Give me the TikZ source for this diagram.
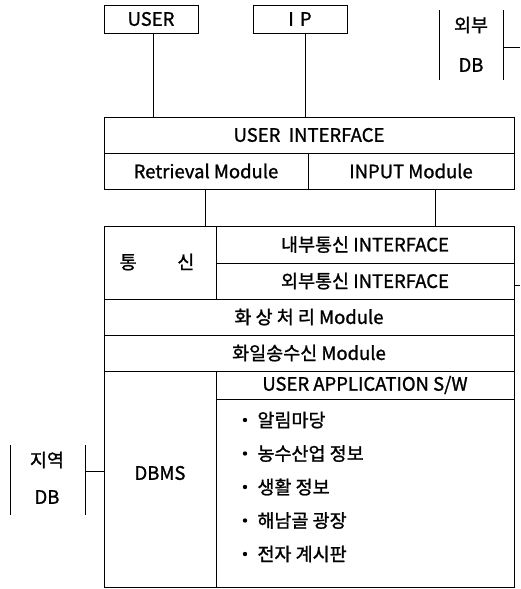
\documentclass[tikz,border=0pt]{standalone}
\usepackage{fontspec}
\setmainfont{Noto Sans CJK KR}[FakeBold=1.2]
\usepackage{tikz}
\usetikzlibrary{positioning,calc}
\tikzset{
  box/.style={draw,line width=0.9pt,inner sep=0pt,font=\fontsize{18.5}{22}\selectfont},
  lbl/.style={inner sep=0pt,font=\fontsize{18.5}{22}\selectfont},
  dot/.style={circle,fill,inner sep=0pt,minimum size=4.4pt}
}

\begin{document}
\begin{tikzpicture}[x=1pt,y=-1pt,line width=0.9pt]
      \useasboundingbox (0,0) rectangle (520,589);
      % top inputs
      \node[box,minimum width=94pt,minimum height=28pt] (user) at (151,19) {USER};
      \node[box,minimum width=94pt,minimum height=28pt] (ip) at (300,19) {I\,\,P};

      % interface layer
      \node[box,minimum width=410pt,minimum height=36pt] (ui) at (309,135) {USER\ \ INTERFACE};
      \node[box,minimum width=204pt,minimum height=36pt] (ret) at (206,171) {Retrieval Module};
      \node[box,minimum width=206pt,minimum height=36pt] (inp) at (411,171) {INPUT Module};

      % communication
      \node[box,minimum width=112pt,minimum height=73pt] (comm) at (160,262.5) {};
      \node[lbl] (commtxt) at (157,262) {통\hspace{2.2em}신};
      \node[box,minimum width=298pt,minimum height=37pt] (inner) at (365,244.5) {내부통신 INTERFACE};
      \node[box,minimum width=298pt,minimum height=36pt] (outer) at (365,281) {외부통신 INTERFACE};
      \node[box,minimum width=410pt,minimum height=36pt] (img) at (309,317) {화 상 처 리 Module};
      \node[box,minimum width=410pt,minimum height=36pt] (file) at (309,353) {화일송수신 Module};

      % DBMS and application
      \node[box,minimum width=112pt,minimum height=216pt] (dbms) at (160,479) {};
      \node[lbl] (dbmstxt) at (160,473) {DBMS};
      \node[box,minimum width=298pt,minimum height=28pt] (apphd) at (365,385) {USER APPLICATION S/W};
      \node[box,minimum width=298pt,minimum height=188pt] (applist) at (365,493) {};
      \foreach \t [count=\i] in {알림마당,농수산업 정보,생활 정보,해남골 광장,전자 계시판}{
        \node[dot] (dot\i) at (245,{420+33.5*(\i-1)}) {};
        \node[lbl,anchor=west] (item\i) at (257,{420+33.5*(\i-1)}) {\t};
      }

      % external DB
      \node[lbl] (extA) at (471,25) {외부};
      \node[lbl] (extB) at (471,65) {DB};
      \draw (439,10) -- (439,80);
      \draw (503,10) coordinate (extR) -- (503,80);
      \coordinate (extout) at (520,47);
      \draw (503,47) -- (extout);
      \coordinate (outerout) at (520,285);
      \draw (outer.east |- outerout) -- (outerout);

      % local DB
      \node[lbl] (locA) at (47,460) {지역};
      \node[lbl] (locB) at (47,497) {DB};
      \draw (10,445) -- (10,515);
      \draw (85,445) -- (85,515);
      \draw (85,471) -- (dbms.west |- 0,471);

      % connectors
      \draw ([xshift=2pt]user.south) -- ([xshift=2pt]user.south |- ui.north);
      \draw ([xshift=5pt]ip.south) -- ([xshift=5pt]ip.south |- ui.north);
      \draw ([xshift=-1pt]ret.south) -- ([xshift=-1pt]ret.south |- comm.north);
      \draw ([xshift=24pt]inp.south) -- ([xshift=24pt]inp.south |- inner.north);
\end{tikzpicture}
\end{document}
